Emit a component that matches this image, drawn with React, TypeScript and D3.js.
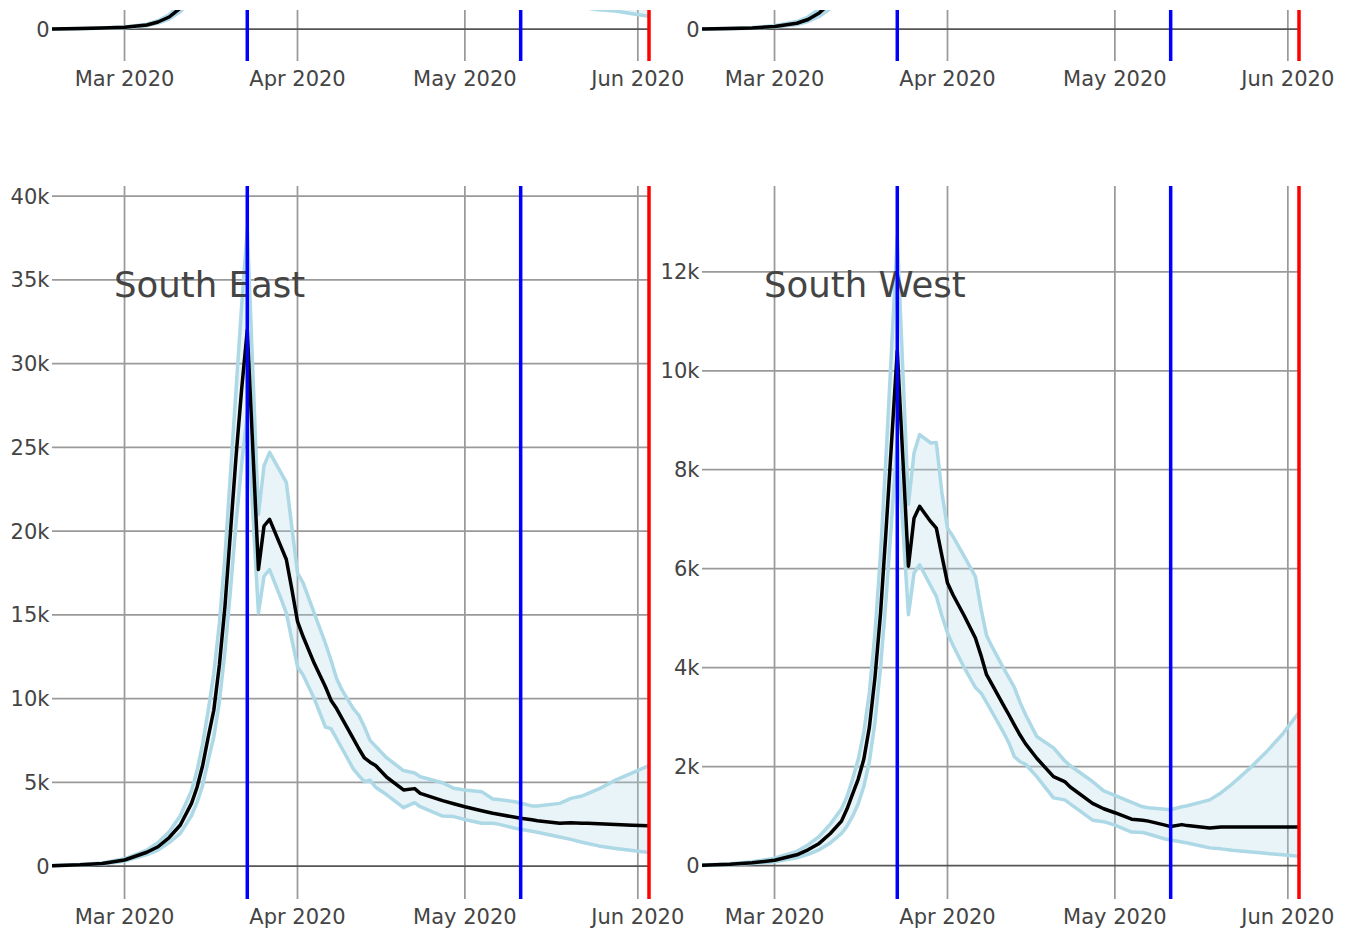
import React from 'react';
import * as d3 from 'd3';

// ---------- data ----------
const START_DATE = '2020-02-17';
const END_DATE = '2020-06-03';

const dates = [
  '2020-02-17', '2020-02-22', '2020-02-26', '2020-03-01', '2020-03-05', '2020-03-07', '2020-03-09', '2020-03-11',
  '2020-03-13', '2020-03-14', '2020-03-15', '2020-03-16', '2020-03-17', '2020-03-18', '2020-03-19', '2020-03-20',
  '2020-03-21', '2020-03-22', '2020-03-23', '2020-03-25', '2020-03-26', '2020-03-27', '2020-03-29', '2020-03-30',
  '2020-03-31', '2020-04-01', '2020-04-02', '2020-04-04', '2020-04-06', '2020-04-07', '2020-04-08', '2020-04-09',
  '2020-04-11', '2020-04-12', '2020-04-13', '2020-04-14', '2020-04-15', '2020-04-17', '2020-04-20', '2020-04-22',
  '2020-04-23', '2020-04-27', '2020-04-29', '2020-05-01', '2020-05-04', '2020-05-06', '2020-05-07', '2020-05-10',
  '2020-05-11', '2020-05-13', '2020-05-14', '2020-05-18', '2020-05-20', '2020-05-22', '2020-05-23', '2020-05-25',
  '2020-05-28', '2020-05-31', '2020-06-03',
];

const monthTicks = ['2020-03-01', '2020-04-01', '2020-05-01', '2020-06-01'];
const lockdownDates = ['2020-03-23', '2020-05-11'];
const forecastDates = ['2020-06-03'];

const regionNames = ['North East and Yorkshire', 'North West', 'South East', 'South West'];

// row above (only its lower edge is visible)
const neyMean = [0, 25, 55, 100, 240, 420, 720, 1250, 2100, 2700, 3500, 4500, 5800, 7500, 9800, 12500, 16000, 20000, 25000,
  16000, 17500, 18000, 17000, 16500, 15000, 13500, 12800, 11500, 10200, 9600, 9100, 8600, 7800, 7400, 7000, 6700, 6400,
  5900, 5200, 4900, 4700, 4200, 4000, 3800, 3500, 3350, 3300, 3100, 3050, 2950, 2900, 2750, 2700, 2650, 2620, 2580, 2520, 2470, 2420];
const neyUpper = [0, 30, 65, 120, 290, 500, 860, 1500, 2500, 3200, 4200, 5400, 7000, 9000, 11800, 15000, 19200, 24000, 30000,
  19500, 21500, 22000, 21000, 20500, 18800, 17000, 16200, 14600, 13000, 12300, 11700, 11100, 10100, 9600, 9100, 8700, 8400,
  7800, 7000, 6700, 6500, 6000, 5800, 5700, 5600, 5600, 5650, 5800, 5900, 6100, 6200, 6700, 7000, 7300, 7500, 7900, 8500, 9100, 9800];
const neyLower = [0, 20, 45, 80, 200, 350, 600, 1050, 1750, 2250, 2900, 3700, 4800, 6200, 8000, 10300, 13000, 16500, 20500,
  12800, 14000, 14400, 13500, 13000, 11800, 10500, 9900, 8800, 7800, 7300, 6900, 6500, 5800, 5500, 5200, 4900, 4700,
  4250, 3700, 3450, 3300, 2900, 2700, 2550, 2350, 2200, 2150, 1950, 1900, 1800, 1750, 1550, 1420, 1300, 1240, 1160, 1080, 920, 760];

const nwMean = [0, 10, 22, 50, 115, 190, 320, 520, 800, 1000, 1250, 1550, 1950, 2450, 3100, 3900, 4900, 6100, 7600,
  4900, 5500, 5700, 5400, 5250, 4800, 4350, 4150, 3750, 3350, 3150, 2980, 2820, 2550, 2430, 2310, 2200, 2100,
  1920, 1700, 1580, 1530, 1350, 1280, 1220, 1140, 1100, 1080, 1030, 1010, 990, 980, 950, 940, 930, 925, 920, 915, 910, 905];
const nwUpper = [0, 14, 30, 65, 150, 240, 400, 680, 1050, 1300, 1600, 2000, 2500, 3100, 3900, 4900, 6100, 7600, 9400,
  6100, 6800, 7000, 6700, 6500, 5950, 5400, 5150, 4650, 4200, 3950, 3750, 3550, 3250, 3100, 2950, 2830, 2720,
  2520, 2280, 2160, 2110, 1950, 1890, 1850, 1810, 1800, 1800, 1820, 1830, 1870, 1890, 1990, 2060, 2140, 2180, 2270, 2420, 2590, 2780];
const nwLower = [0, 7, 16, 38, 90, 150, 250, 410, 640, 800, 1000, 1250, 1550, 1950, 2500, 3150, 3950, 4900, 6100,
  3900, 4400, 4550, 4300, 4150, 3800, 3450, 3280, 2950, 2620, 2460, 2320, 2190, 1960, 1860, 1760, 1670, 1590,
  1440, 1250, 1150, 1100, 960, 900, 850, 790, 750, 730, 690, 670, 650, 640, 610, 590, 580, 570, 560, 545, 530, 520];

const seMean = [20, 70, 150, 360, 820, 1150, 1700, 2450, 3740, 4700, 6000, 7700, 9300, 12000, 15500, 20000, 24500, 28500, 32000,
  17700, 20300, 20700, 19100, 18300, 16500, 14600, 13700, 12100, 10700, 9900, 9400, 8800, 7600, 7000, 6450, 6200, 6000,
  5300, 4540, 4620, 4340, 3900, 3720, 3540, 3300, 3150, 3090, 2910, 2850, 2760, 2700, 2550, 2580, 2560, 2550, 2520, 2480, 2440, 2400];
const seUpper = [25, 85, 180, 430, 950, 1400, 2050, 3000, 4500, 5700, 7300, 9300, 11500, 14500, 18500, 23500, 28500, 33500, 38000,
  21000, 23900, 24700, 23500, 22900, 20200, 17500, 16900, 15100, 13300, 12300, 11200, 10500, 9400, 9000, 8300, 7500, 7150,
  6450, 5700, 5550, 5330, 4970, 4640, 4540, 4440, 4000, 3970, 3840, 3750, 3590, 3580, 3740, 4040, 4180, 4320, 4600, 5130, 5560, 6000];
const seLower = [15, 55, 120, 290, 680, 950, 1400, 1950, 3000, 3800, 4800, 6300, 7700, 9800, 12800, 16500, 20500, 24000, 27000,
  15100, 17300, 17700, 16000, 15100, 13500, 11900, 11400, 10000, 8300, 8200, 7600, 7000, 5800, 5400, 5030, 5130, 4700,
  4250, 3480, 3780, 3540, 2980, 2950, 2780, 2550, 2550, 2500, 2250, 2200, 2080, 2020, 1730, 1590, 1420, 1340, 1200, 1050, 920, 800];

const swMean = [10, 30, 60, 110, 220, 320, 450, 650, 900, 1150, 1450, 1750, 2150, 2800, 3800, 5100, 6800, 8600, 10400,
  6050, 7020, 7260, 6950, 6820, 6260, 5710, 5470, 5050, 4600, 4250, 3860, 3660, 3250, 3050, 2840, 2640, 2460,
  2170, 1800, 1700, 1590, 1260, 1150, 1070, 940, 920, 900, 820, 790, 830, 810, 760, 780, 780, 780, 780, 780, 780, 780];
const swUpper = [15, 40, 80, 150, 290, 420, 590, 840, 1150, 1400, 1750, 2150, 2700, 3500, 4700, 6300, 8300, 10500, 12700,
  7300, 8340, 8710, 8540, 8550, 7530, 6820, 6650, 6250, 5840, 5200, 4650, 4420, 4000, 3800, 3600, 3300, 3050,
  2610, 2380, 2120, 2020, 1700, 1510, 1420, 1280, 1190, 1170, 1140, 1130, 1190, 1210, 1330, 1470, 1650, 1750, 1950, 2280, 2650, 3100];
const swLower = [5, 20, 45, 80, 160, 230, 320, 460, 650, 800, 1000, 1250, 1600, 2100, 2900, 4000, 5400, 7000, 8600,
  5070, 5910, 6080, 5650, 5440, 5050, 4700, 4450, 4000, 3600, 3490, 3300, 3100, 2700, 2480, 2200, 2100, 2050,
  1800, 1370, 1330, 1250, 920, 890, 820, 680, 670, 640, 540, 520, 480, 460, 360, 340, 310, 300, 280, 250, 220, 190];

const leftTicks = [0, 5000, 10000, 15000, 20000, 25000, 30000, 35000, 40000];
const rightTicks = [0, 2000, 4000, 6000, 8000, 10000, 12000];

// ---------- layout ----------
const W = 1357;
const H = 933;
const COLS: [number, number][] = [[52, 649], [702, 1299]];
const ROWS: [number, number][] = [[10, 61], [186, 899]];
const FONT = '"DejaVu Sans", Verdana, sans-serif';
const TEXT = '#444';

const parse = d3.utcParse('%Y-%m-%d');
const fmtMonth = d3.utcFormat('%b %Y');
const fmtTick = d3.format('~s');

type Panel = {
  key: string; name: string; col: number; row: number; showTitle: boolean;
  mean: number[]; upper: number[]; lower: number[]; domain: [number, number]; ticks: number[];
};

const panels: Panel[] = [
  { key: 'ney', name: regionNames[0], col: 0, row: 0, showTitle: false, mean: neyMean, upper: neyUpper, lower: neyLower, domain: [-1920, 1140], ticks: leftTicks },
  { key: 'nw', name: regionNames[1], col: 1, row: 0, showTitle: false, mean: nwMean, upper: nwUpper, lower: nwLower, domain: [-640, 380], ticks: rightTicks },
  { key: 'se', name: regionNames[2], col: 0, row: 1, showTitle: true, mean: seMean, upper: seUpper, lower: seLower, domain: [-1970, 40600], ticks: leftTicks },
  { key: 'sw', name: regionNames[3], col: 1, row: 1, showTitle: true, mean: swMean, upper: swUpper, lower: swLower, domain: [-673, 13733], ticks: rightTicks },
];

function PanelView({ p }: { p: Panel }) {
  const [x0, x1] = COLS[p.col];
  const [top, bottom] = ROWS[p.row];
  const x = d3.scaleUtc().domain([parse(START_DATE)!, parse(END_DATE)!]).range([x0, x1]);
  const y = d3.scaleLinear().domain(p.domain).range([bottom, top]);
  const pts = dates.map((d, i) => ({ t: parse(d)!, m: p.mean[i], u: p.upper[i], l: p.lower[i] }));
  const area = d3.area<typeof pts[0]>().x(d => x(d.t)).y0(d => y(d.l)).y1(d => y(d.u));
  const lineU = d3.line<typeof pts[0]>().x(d => x(d.t)).y(d => y(d.u));
  const lineL = d3.line<typeof pts[0]>().x(d => x(d.t)).y(d => y(d.l));
  const lineM = d3.line<typeof pts[0]>().x(d => x(d.t)).y(d => y(d.m));
  const clipId = `clip-${p.key}`;
  const yTicks = p.ticks.filter(v => v >= p.domain[0] && v <= p.domain[1]);
  return (
    <g>
      <defs>
        <clipPath id={clipId}>
          <rect x={x0} y={top} width={x1 - x0} height={bottom - top} />
        </clipPath>
      </defs>
      {yTicks.filter(v => v !== 0).map(v => (
        <line key={`hy${v}`} x1={x0} x2={x1} y1={y(v)} y2={y(v)} stroke="#9a9a9a" strokeWidth={1.75} />
      ))}
      {monthTicks.map(m => (
        <line key={`vx${m}`} x1={x(parse(m)!)} x2={x(parse(m)!)} y1={top} y2={bottom} stroke="#9a9a9a" strokeWidth={1.75} />
      ))}
      {yTicks.includes(0) && (
        <line x1={x0} x2={x1} y1={y(0)} y2={y(0)} stroke="#555" strokeWidth={1.75} />
      )}
      <g clipPath={`url(#${clipId})`}>
        <path d={area(pts)!} fill="rgba(173,216,230,0.27)" stroke="none" />
        <path d={lineL(pts)!} fill="none" stroke="#add8e6" strokeWidth={3.5} strokeLinejoin="round" />
        <path d={lineU(pts)!} fill="none" stroke="#add8e6" strokeWidth={3.5} strokeLinejoin="round" />
        <path d={lineM(pts)!} fill="none" stroke="#000" strokeWidth={3.5} strokeLinejoin="round" />
      </g>
      {p.showTitle && (
        <text x={x0 + 62} y={top + 110.5} fontFamily={FONT} fontSize={35.5} fill={TEXT}>{p.name}</text>
      )}
      {lockdownDates.map(d => (
        <line key={`b${d}`} x1={x(parse(d)!)} x2={x(parse(d)!)} y1={top} y2={bottom} stroke="#0000ff" strokeWidth={3.5} />
      ))}
      {forecastDates.map(d => (
        <line key={`r${d}`} x1={x(parse(d)!)} x2={x(parse(d)!)} y1={top} y2={bottom} stroke="#ff0000" strokeWidth={3.5} />
      ))}
      {yTicks.map(v => (
        <text key={`ty${v}`} x={x0 - 2.5} y={y(v) + 7.6} textAnchor="end" fontFamily={FONT} fontSize={21} fill={TEXT}>
          {fmtTick(v)}
        </text>
      ))}
      {monthTicks.map(m => (
        <text key={`tx${m}`} x={x(parse(m)!)} y={bottom + 24.5} textAnchor="middle" fontFamily={FONT} fontSize={21} fill={TEXT}>
          {fmtMonth(parse(m)!)}
        </text>
      ))}
    </g>
  );
}

export default function App() {
  return (
    <svg width={W} height={H} viewBox={`0 0 ${W} ${H}`}
      style={{ position: 'absolute', left: 0, top: 0, background: '#fff', display: 'block' }}>
      <rect x={0} y={0} width={W} height={H} fill="#fff" />
      {panels.map(p => <PanelView key={p.key} p={p} />)}
    </svg>
  );
}
